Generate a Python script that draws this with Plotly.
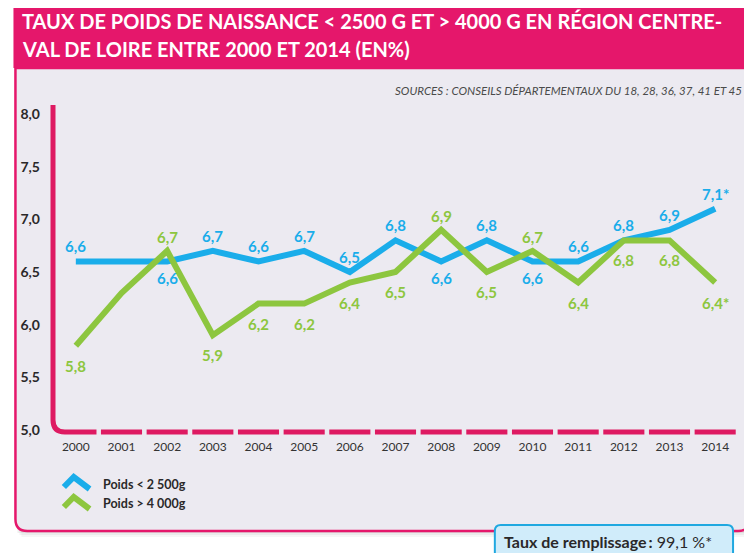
import plotly.graph_objects as go

# ---------------- data ----------------
years = list(range(2000, 2015))
poids_moins_2500 = [6.6, 6.6, 6.6, 6.7, 6.6, 6.7, 6.5, 6.8, 6.6, 6.8, 6.6, 6.6, 6.8, 6.9, 7.1]
poids_plus_4000 = [5.8, 6.3, 6.7, 5.9, 6.2, 6.2, 6.4, 6.5, 6.9, 6.5, 6.7, 6.4, 6.8, 6.8, 6.4]
series_names = ["Poids < 2 500g", "Poids > 4 000g"]
unlabeled_years = [2001]
provisional_years = [2014]          # values marked with *
low_labels_below = [2002, 2008, 2010]   # blue labels placed under the line
high_labels_above = [2002, 2008, 2010]  # green labels placed above the line
y_tickvals = [5.0, 5.5, 6.0, 6.5, 7.0, 7.5, 8.0]
y_ticktext = ["5,0", "5,5", "6,0", "6,5", "7,0", "7,5", "8,0"]
title_lines = ["TAUX DE POIDS DE NAISSANCE < 2500 G ET > 4000 G EN RÉGION CENTRE-",
               "VAL DE LOIRE ENTRE 2000 ET 2014 (EN%)"]
source_text = "SOURCES : CONSEILS DÉPARTEMENTAUX DU 18, 28, 36, 37, 41 ET 45"
fill_rate_label = "Taux de remplissage\u2009:"
fill_rate_value = "99,1 %*"

# ---------------- style ----------------
OFF = 8                     # page body margin
W, H = 752 - OFF, 553 - OFF
L, R, T, B = 37, 14, 97, 121
PW, PH = W - L - R, H - T - B
PINK = "#E5176B"
AXIS_PINK = "#DE1A62"
BLUE = "#1AADEA"
GREEN = "#8DC63F"
CARD = "#ECEAF1"
DARK = "#2A2829"
FONT = "Lato"


def px(x):
    """reference-window pixel x -> paper coordinate"""
    return (x - OFF - L) / PW


def py(y):
    """reference-window pixel y -> paper coordinate"""
    return (H - B - (y - OFF)) / PH


def P(x, y):
    return f"{px(x):.5f},{py(y):.5f}"


def fmt(v, yr):
    t = f"{v:.1f}".replace(".", ",")
    return t + ("*" if yr in provisional_years else "")


fig = go.Figure()
fig.add_trace(go.Scatter(x=years, y=poids_moins_2500, name=series_names[0], mode="lines",
                         line=dict(color=BLUE, width=6), hoverinfo="skip", showlegend=False))
fig.add_trace(go.Scatter(x=years, y=poids_plus_4000, name=series_names[1], mode="lines",
                         line=dict(color=GREEN, width=6), hoverinfo="skip", showlegend=False))

shapes = []
# drop shadow
for off, op in [(6, 0.035), (4, 0.045), (2, 0.06)]:
    shapes.append(dict(type="rect", xref="paper", yref="paper", layer="below",
                       x0=px(7 + off), x1=px(760), y0=py(68 + off), y1=py(531 + off),
                       fillcolor=f"rgba(0,0,0,{op})", line=dict(width=0)))
# card with rounded bottom corners
card = (f"M {P(7, 68)} L {P(7, 519)} Q {P(7, 531)} {P(19, 531)} "
        f"L {P(738, 531)} Q {P(750, 531)} {P(750, 519)} L {P(750, 68)} Z")
shapes.append(dict(type="path", xref="paper", yref="paper", layer="below", path=card,
                   fillcolor=CARD, line=dict(color=PINK, width=2.5)))
# title banner
shapes.append(dict(type="rect", xref="paper", yref="paper", layer="below",
                   x0=px(5), x1=px(760), y0=py(4), y1=py(68),
                   fillcolor=PINK, line=dict(width=0)))
# y axis with rounded corner
yaxis_path = f"M {P(45, 105)} L {P(45, 420)} Q {P(45, 432)} {P(57, 432)} L {P(89, 432)}"
shapes.append(dict(type="path", xref="paper", yref="paper", layer="below", path=yaxis_path,
                   line=dict(color=AXIS_PINK, width=5)))
# dashed x axis: one segment per year
for yr in years[1:]:
    shapes.append(dict(type="line", xref="x", yref="paper", layer="below",
                       x0=yr - 0.45, x1=yr + 0.45, y0=0, y1=0,
                       line=dict(color=AXIS_PINK, width=5)))
# legend chevrons
shapes.append(dict(type="path", xref="paper", yref="paper",
                   path=f"M {P(56, 487)} L {P(66, 477)} L {P(82, 489)}", line=dict(color=BLUE, width=6)))
shapes.append(dict(type="path", xref="paper", yref="paper",
                   path=f"M {P(56, 507)} L {P(66, 497)} L {P(82, 509)}", line=dict(color=GREEN, width=6)))
# fill-rate box
box = (f"M {P(492, 570)} L {P(492, 531)} Q {P(492, 525)} {P(498, 525)} "
       f"L {P(727, 525)} Q {P(733, 525)} {P(733, 531)} L {P(733, 570)} Z")
shapes.append(dict(type="path", xref="paper", yref="paper", path=box,
                   fillcolor="#D0ECFA", line=dict(color="#20A8E0", width=2)))

ann = []
# title
for i, line in enumerate(title_lines):
    ann.append(dict(xref="paper", yref="paper", x=px(12), y=py(21 + 28 * i),
                    xanchor="left", yanchor="middle", showarrow=False, text=f"<b>{line}</b>",
                    font=dict(family=FONT, size=20, color="white")))
ann.append(dict(xref="paper", yref="paper", x=px(744), y=py(90), xanchor="right", yanchor="middle",
                showarrow=False, text=f"<i>{source_text}</i>",
                font=dict(family=FONT, size=11.5, color="#4A4A4A")))
# data labels
for yr, v in zip(years, poids_moins_2500):
    if yr in unlabeled_years:
        continue
    below = yr in low_labels_below
    ann.append(dict(x=yr, y=v, text=f"<b>{fmt(v, yr)}</b>", showarrow=False,
                    yshift=-17 if below else 15, yanchor="middle",
                    font=dict(family=FONT, size=15, color=BLUE)))
for yr, v in zip(years, poids_plus_4000):
    if yr in unlabeled_years:
        continue
    above = yr in high_labels_above
    ann.append(dict(x=yr, y=v, text=f"<b>{fmt(v, yr)}</b>", showarrow=False,
                    yshift=14 if above else -20, yanchor="middle",
                    font=dict(family=FONT, size=15, color=GREEN)))
# legend texts
for i, name in enumerate(series_names):
    ann.append(dict(xref="paper", yref="paper", x=px(94), y=py(484 + 19 * i), xanchor="left",
                    yanchor="middle", showarrow=False, text=f"<b>{name}</b>",
                    font=dict(family=FONT, size=12.5, color=DARK)))
# fill rate
ann.append(dict(xref="paper", yref="paper", x=px(499), y=py(541), xanchor="left", yanchor="middle",
                showarrow=False, text=f"<b>{fill_rate_label}</b> {fill_rate_value}",
                font=dict(family=FONT, size=16, color=DARK)))

fig.update_layout(
    width=W, height=H,
    margin=dict(l=L, r=R, t=T, b=B, pad=0),
    paper_bgcolor="white", plot_bgcolor="rgba(0,0,0,0)",
    shapes=shapes, annotations=ann, showlegend=False,
    xaxis=dict(range=[1999.5, 2014.5], tickvals=years, ticktext=[str(y) for y in years],
               showgrid=False, zeroline=False, showline=False, ticks="",
               ticklabelstandoff=6, tickfont=dict(family=FONT, size=12, color="#333333"),
               fixedrange=True),
    yaxis=dict(range=[5.0 - 2 / 105.33, 8.0 + 9 / 105.33], tickvals=y_tickvals, ticktext=y_ticktext,
               showgrid=False, zeroline=False, showline=False, ticks="",
               ticklabelstandoff=12, tickfont=dict(family=FONT, size=14, color=DARK, weight="bold"),
               fixedrange=True),
)

fig.write_html("out.html")
